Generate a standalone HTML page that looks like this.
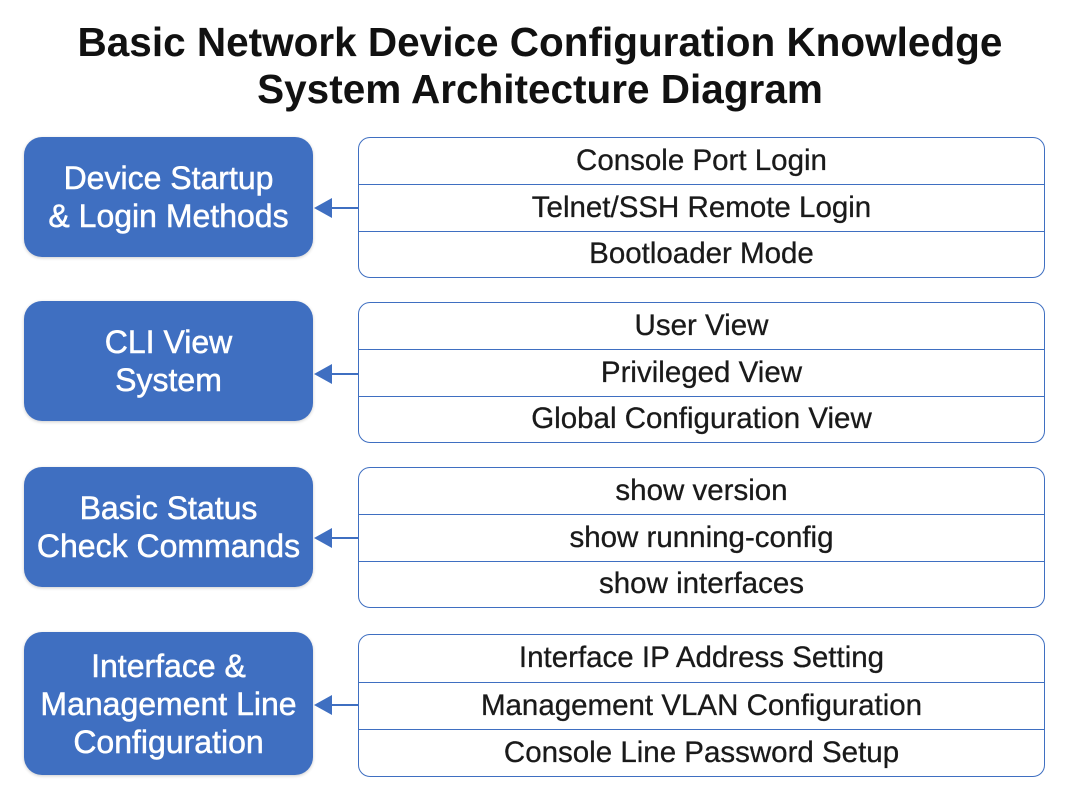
<!DOCTYPE html>
<html><head><style>
body{margin:0;width:1080px;height:810px;background:#fff;font-family:"Liberation Sans",sans-serif;position:relative;overflow:hidden}
.t{position:absolute;left:0;width:1080px;text-align:center;font-weight:bold;font-size:40.5px;color:#111;line-height:45px}
.l{position:absolute;left:24px;width:289px;background:#3f6fc1;border-radius:18px;color:#fff;font-size:32px;display:flex;align-items:center;justify-content:center;text-align:center;line-height:38px;box-shadow:0 1px 3px rgba(0,0,0,.2);-webkit-text-stroke:0.5px #fff}
.r{position:absolute;left:358px;width:687px;border:1.5px solid #3f6fc1;border-radius:12px;box-sizing:border-box}
.r div{height:33.33%;display:flex;align-items:center;justify-content:center;font-size:29.5px;color:#1a1a1a;box-sizing:border-box;-webkit-text-stroke:0.3px #1a1a1a}
.r div+div{border-top:1.5px solid #3f6fc1}
.a{position:absolute;left:314px;width:44px;height:22px}
</style></head><body>
<div class="t" style="top:20px">Basic Network Device Configuration Knowledge</div>
<div class="t" style="top:67px">System Architecture Diagram</div>

<div class="l" style="top:137px;height:120px">Device Startup<br>&amp; Login Methods</div>
<div class="r" style="top:137px;height:141px"><div>Console Port Login</div><div>Telnet/SSH Remote Login</div><div>Bootloader Mode</div></div>
<svg class="a" style="top:197px"><polygon points="0,11 18,1 18,21" fill="#3f6fc1"/><line x1="16" y1="11" x2="44" y2="11" stroke="#3f6fc1" stroke-width="2"/></svg>

<div class="l" style="top:301px;height:120px">CLI View<br>System</div>
<div class="r" style="top:302px;height:141px"><div>User View</div><div>Privileged View</div><div>Global Configuration View</div></div>
<svg class="a" style="top:363px"><polygon points="0,11 18,1 18,21" fill="#3f6fc1"/><line x1="16" y1="11" x2="44" y2="11" stroke="#3f6fc1" stroke-width="2"/></svg>

<div class="l" style="top:467px;height:120px">Basic Status<br>Check Commands</div>
<div class="r" style="top:467px;height:141px"><div>show version</div><div>show running-config</div><div>show interfaces</div></div>
<svg class="a" style="top:527px"><polygon points="0,11 18,1 18,21" fill="#3f6fc1"/><line x1="16" y1="11" x2="44" y2="11" stroke="#3f6fc1" stroke-width="2"/></svg>

<div class="l" style="top:632px;height:143px">Interface &amp;<br>Management Line<br>Configuration</div>
<div class="r" style="top:634px;height:143px"><div>Interface IP Address Setting</div><div>Management VLAN Configuration</div><div>Console Line Password Setup</div></div>
<svg class="a" style="top:694px"><polygon points="0,11 18,1 18,21" fill="#3f6fc1"/><line x1="16" y1="11" x2="44" y2="11" stroke="#3f6fc1" stroke-width="2"/></svg>
</body></html>
